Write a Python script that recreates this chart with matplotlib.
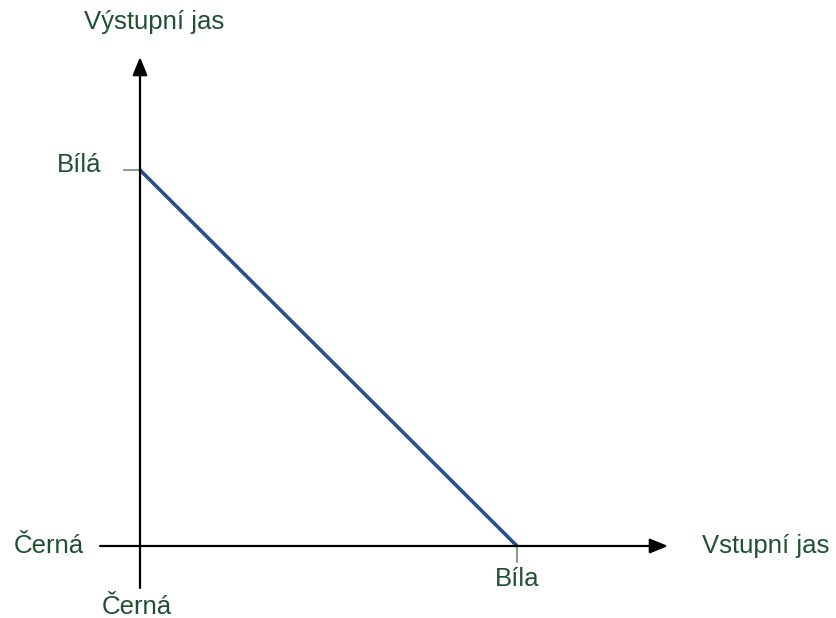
import matplotlib
matplotlib.use("Agg")
import matplotlib.pyplot as plt

# Data
input_levels = [0, 1]          # Černá -> Bíla
output_levels = [1, 0]         # inverted transfer curve
x_tick_labels = ["Černá", "Bíla"]
y_tick_labels = ["Černá", "Bílá"]
x_axis_title = "Vstupní jas"
y_axis_title = "Výstupní jas"

plt.rcParams['font.family'] = ['Liberation Sans', 'DejaVu Sans']
TXT = '#1F5130'
LINE = '#2A4F8D'
TICK = '#6E8E78'

W, H = 837, 618
fig = plt.figure(figsize=(W / 100, H / 100), dpi=100)
ax = fig.add_axes([0, 0, 1, 1])
ox, oy, sx, sy = 140, 546, 377, 376
ax.set_xlim(-ox / sx, (W - ox) / sx)
ax.set_ylim(-(H - oy) / sy, oy / sy)
ax.axis('off')

# axes with arrows
ax.annotate('', xy=((668 - ox) / sx, 0), xytext=((100 - ox) / sx, 0),
            arrowprops=dict(arrowstyle='-|>,head_length=1.1,head_width=0.45',
                            color='black', lw=1.6, shrinkA=0, shrinkB=0))
ax.annotate('', xy=(0, (oy - 57) / sy), xytext=(0, -(588 - oy) / sy),
            arrowprops=dict(arrowstyle='-|>,head_length=1.1,head_width=0.45',
                            color='black', lw=1.6, shrinkA=0, shrinkB=0))

# ticks
ax.plot([-16 / sx, 0], [output_levels[0]] * 2, color=TICK, lw=1.2)
ax.plot([input_levels[1]] * 2, [0, -16 / sy], color=TICK, lw=1.2)

# transfer line
ax.plot(input_levels, output_levels, color=LINE, lw=2.6, solid_capstyle='butt')

fs = 18.5
ax.text(-61 / sx, output_levels[0] + 5 / sy, y_tick_labels[1], color=TXT,
        fontsize=fs, ha='center', va='center')
ax.text(-56 / sx, 0, y_tick_labels[0], color=TXT, fontsize=fs, ha='right', va='center')
ax.text(-3 / sx, -61 / sy, x_tick_labels[0], color=TXT, fontsize=fs, ha='center', va='center')
ax.text(input_levels[1], -33 / sy, x_tick_labels[1], color=TXT, fontsize=fs,
        ha='center', va='center')
ax.text((702 - ox) / sx, 0, x_axis_title, color=TXT, fontsize=fs, ha='left', va='center')
ax.text(14 / sx, (oy - 22) / sy, y_axis_title, color=TXT, fontsize=fs,
        ha='center', va='center')

fig.savefig('out.png', dpi=100)
